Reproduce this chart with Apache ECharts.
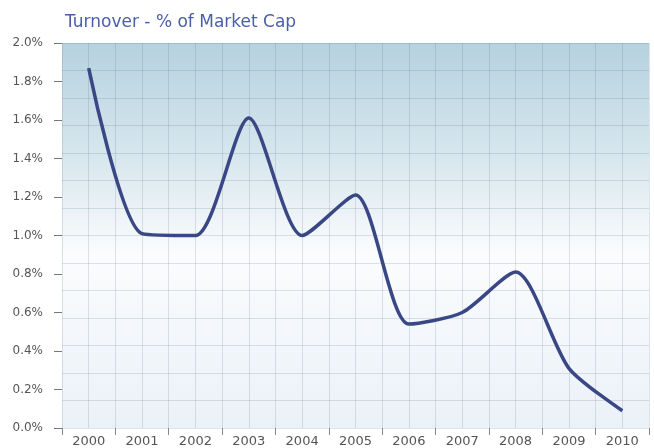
<!DOCTYPE html>
<html>
<head>
<meta charset="utf-8">
<title>Turnover - % of Market Cap</title>
<script src="https://cdn.jsdelivr.net/npm/echarts@6/dist/echarts.min.js"></script>
<style>
  html, body { margin: 0; padding: 0; background: #ffffff; }
  #chart { width: 654px; height: 448px; }
</style>
</head>
<body>
<div id="chart"></div>
<script>
// Annual turnover as a percentage of market capitalisation
const years = ['2000', '2001', '2002', '2003', '2004', '2005', '2006', '2007', '2008', '2009', '2010'];
const turnover = [1.87, 1.01, 1.0, 1.61, 1.0, 1.21, 0.54, 0.6, 0.81, 0.31, 0.09];
const yTicks = [0, 0.2, 0.4, 0.6, 0.8, 1.0, 1.2, 1.4, 1.6, 1.8, 2.0];

const gridLine = { show: true, lineStyle: { color: 'rgba(70,95,120,0.17)', width: 1 } };

const chart = echarts.init(document.getElementById('chart'), null, { renderer: 'canvas' });
chart.setOption({
  animation: false,
  title: {
    text: 'Turnover - % of Market Cap',
    left: 60, top: 9,
    textStyle: { fontFamily: 'DejaVu Sans', fontSize: 17, fontWeight: 'normal', color: '#4a5fa8' }
  },
  grid: {
    left: 62, right: 5, top: 43, bottom: 19,
    show: true, borderWidth: 0,
    backgroundColor: {
      type: 'linear', x: 0, y: 0, x2: 0, y2: 1,
      colorStops: [
        { offset: 0, color: '#b5d2df' },
        { offset: 0.3, color: '#d8e7ee' },
        { offset: 0.55, color: '#fbfcfd' },
        { offset: 1, color: '#eaf1f8' }
      ]
    }
  },
  xAxis: [
    {
      type: 'category', data: years, boundaryGap: true, offset: 7,
      axisLine: { show: false },
      axisTick: { show: true, length: 7, lineStyle: { color: '#888' } },
      axisLabel: { margin: 0, fontFamily: 'DejaVu Sans', fontSize: 13, color: '#555' },
      splitLine: { show: false }
    },
    {
      // square background lattice, two cells per year
      type: 'value', min: 0, max: 22, interval: 1, position: 'bottom',
      axisLine: { show: false }, axisTick: { show: false }, axisLabel: { show: false },
      splitLine: gridLine
    }
  ],
  yAxis: [
    {
      type: 'value', min: 0, max: 2.0, interval: 0.2, offset: 5,
      axisLine: { show: false },
      axisTick: { show: true, length: 8, lineStyle: { color: '#777' } },
      axisLabel: {
        margin: 14, fontFamily: 'DejaVu Sans', fontSize: 12, color: '#555',
        formatter: v => yTicks.some(t => Math.abs(t - v) < 1e-9) ? v.toFixed(1) + '%' : ''
      },
      splitLine: { show: false }
    },
    {
      type: 'value', min: 0, max: 14, interval: 1, position: 'right',
      axisLine: { show: false }, axisTick: { show: false }, axisLabel: { show: false },
      splitLine: gridLine
    }
  ],
  series: [
    {
      type: 'line', data: turnover, xAxisIndex: 0, yAxisIndex: 0,
      smooth: 0.25, showSymbol: false,
      lineStyle: { color: '#3a4785', width: 3.5 }
    }
  ]
});
</script>
</body>
</html>
